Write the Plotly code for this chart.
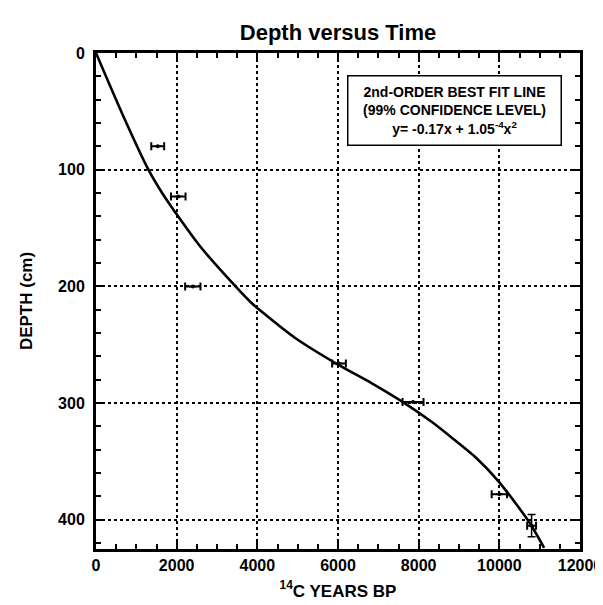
import plotly.graph_objects as go

# Radiocarbon samples: age (14C years BP), depth (cm), errors
sample_age = [1530, 2040, 2400, 6025, 7860, 10000, 10800]
sample_depth = [80, 123, 200, 266, 299, 378, 405]
age_err = [160, 180, 190, 170, 260, 190, 110]
depth_err = [0, 0, 0, 0, 0, 0, 9.5]

# Best-fit line
fit_age = [0, 650, 1300, 1640, 1975, 2565, 3460, 3850, 4120, 4930, 6000, 6840,
           7650, 8320, 8800, 9430, 9980, 10450, 10760, 11110]
fit_depth = [0, 52, 100, 120, 137, 165, 200, 214, 222, 244, 267, 283,
             300, 316, 329, 347, 367, 388, 403, 424]

x_ticks = [0, 2000, 4000, 6000, 8000, 10000, 12000]
y_ticks = [0, 100, 200, 300, 400]

FONT = "Liberation Sans, Arial, sans-serif"

fig = go.Figure()
fig.add_trace(go.Scatter(
    x=fit_age, y=fit_depth, mode="lines",
    line=dict(color="black", width=2.6, shape="spline", smoothing=0.7),
    showlegend=False, hoverinfo="skip"))
fig.add_trace(go.Scatter(
    x=sample_age, y=sample_depth, mode="markers",
    marker=dict(color="black", size=4),
    error_x=dict(type="data", array=age_err, color="black", thickness=2, width=4),
    error_y=dict(type="data", array=depth_err, color="black", thickness=1.5, width=4),
    showlegend=False))

axis_common = dict(
    showline=True, linecolor="black", linewidth=3, mirror="ticks",
    ticks="inside", ticklen=7, tickwidth=2, tickcolor="black",
    showgrid=True, gridcolor="black", gridwidth=1.5, griddash="dot",
    zeroline=False, automargin=False,
    tickfont=dict(family=FONT, size=16, color="black", weight="bold"),
)

fig.update_xaxes(
    range=[0, 12000], tickvals=x_ticks, ticktext=[str(v) for v in x_ticks],
    minor=dict(dtick=500, ticks="inside", ticklen=5, tickwidth=1.5,
               tickcolor="black", showgrid=False),
    title=dict(text="<sup>14</sup>C YEARS BP",
               font=dict(family=FONT, size=17, color="black", weight="bold"),
               standoff=12),
    **axis_common)
fig.update_yaxes(
    range=[425, 0], tickvals=y_ticks, ticktext=[str(v) for v in y_ticks],
    ticklabelstandoff=5,
    minor=dict(dtick=20, ticks="inside", ticklen=5, tickwidth=1.5,
               tickcolor="black", showgrid=False),
    title=dict(text="DEPTH (cm)",
               font=dict(family=FONT, size=17, color="black", weight="bold"),
               standoff=22),
    **axis_common)

fig.add_annotation(
    xref="paper", yref="paper", x=0.741, y=0.885, xanchor="center", yanchor="middle",
    text="2nd-ORDER BEST FIT LINE<br>(99% CONFIDENCE LEVEL)<br>y= -0.17x + 1.05<sup>-4</sup>x<sup>2</sup>",
    showarrow=False, align="center", width=204, height=60, valign="middle",
    font=dict(family=FONT, size=14, color="black", weight="bold"),
    bordercolor="black", borderwidth=1.5, borderpad=4, bgcolor="white")

fig.update_layout(
    width=603, height=605,
    margin=dict(l=88, r=31, t=45, b=64),
    paper_bgcolor="white", plot_bgcolor="white",
    title=dict(text="Depth versus Time", xref="paper", x=0.5, xanchor="center",
               yref="container", y=1 - 24 / 605, yanchor="middle",
               font=dict(family=FONT, size=22, color="black", weight="bold")),
)

fig.write_html("out.html")
